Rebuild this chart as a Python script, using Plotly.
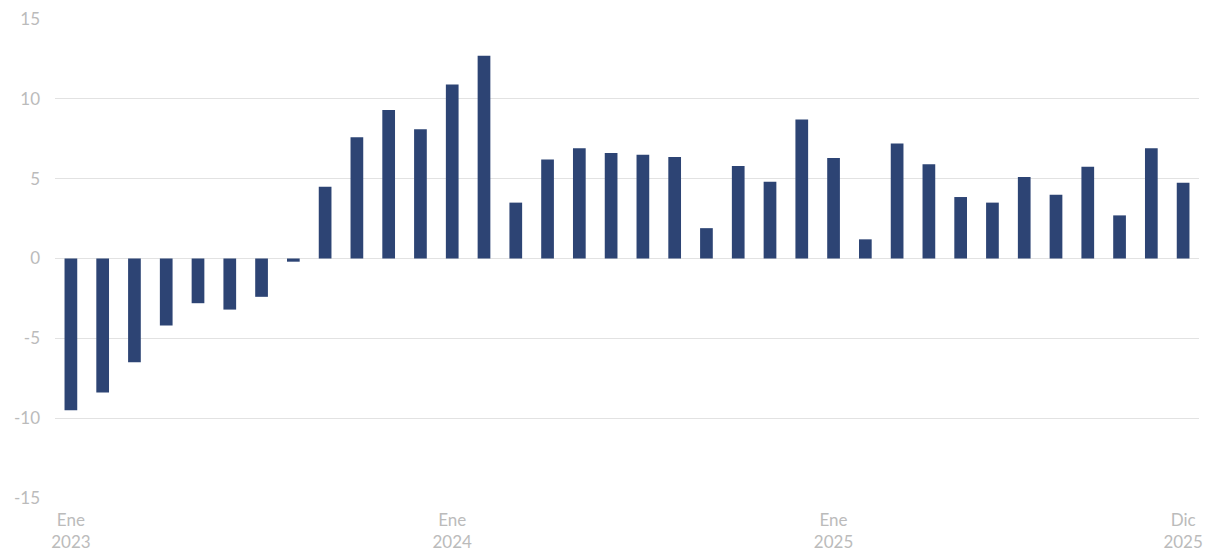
import plotly.graph_objects as go

months = ["Ene","Feb","Mar","Abr","May","Jun","Jul","Ago","Sep","Oct","Nov","Dic"]
years = [2023, 2024, 2025]
categories = [f"{m} {y}" for y in years for m in months]
values = [-9.5, -8.4, -6.5, -4.2, -2.8, -3.2, -2.4, -0.2, 4.5, 7.6, 9.3, 8.1,
          10.9, 12.7, 3.5, 6.2, 6.9, 6.6, 6.5, 6.35, 1.9, 5.8, 4.8, 8.7,
          6.3, 1.2, 7.2, 5.9, 3.85, 3.5, 5.1, 4.0, 5.75, 2.7, 6.9, 4.75]
tick_labels = ["Ene<br>2023", "Ene<br>2024", "Ene<br>2025", "Dic<br>2025"]
tick_cats = ["Ene 2023", "Ene 2024", "Ene 2025", "Dic 2025"]
y_ticks = [-15, -10, -5, 0, 5, 10, 15]
y_tick_labels = ["-15", "-10", "-5", "0", "5", "10", "15"]

fig = go.Figure(go.Bar(x=categories, y=values, marker_color="#2d4474",
                       marker_line_width=0, width=0.4))

fig.update_layout(
    width=1206, height=553,
    margin=dict(l=55, r=7, t=19, b=55),
    plot_bgcolor="white", paper_bgcolor="white",
    font=dict(family="Lato", size=17, color="#bbbbbb"),
    showlegend=False,
    xaxis=dict(type="category", tickmode="array", tickvals=tick_cats, ticktext=tick_labels,
               showgrid=False, showline=False, zeroline=False, ticks="",
               tickangle=0, range=[-0.5, 35.5], ticklabelstandoff=10, automargin=False),
    yaxis=dict(range=[-15, 15], tickvals=y_ticks, ticktext=y_tick_labels,
               showgrid=True, gridcolor="#e2e2e2",
               gridwidth=1, zeroline=True, zerolinecolor="#e2e2e2", zerolinewidth=1,
               ticks="", ticklabelstandoff=14, automargin=False),
)

fig.write_html("out.html")
